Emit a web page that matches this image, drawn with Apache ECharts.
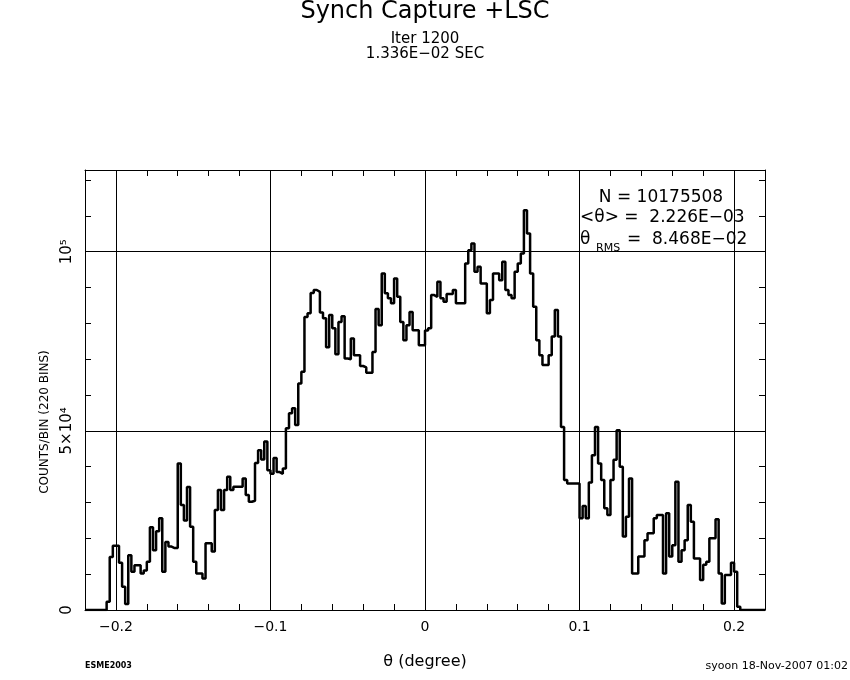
<!DOCTYPE html>
<html>
<head>
<meta charset="utf-8">
<title>Synch Capture +LSC</title>
<script src="https://cdn.jsdelivr.net/npm/echarts@6/dist/echarts.min.js"></script>
<style>
  html, body { margin: 0; padding: 0; background: #fff; }
  #chart { width: 850px; height: 680px; }
</style>
</head>
<body>
<div id="chart"></div>
<script>
// histogram: 220 bins of 0.002 deg from -0.22 to 0.22
const binStart = -0.22
const binWidth = 0.002
const counts = [
  0, 0, 0, 0, 0, 0, 0, 2300, 14800, 17900,
  17900, 13200, 6500, 1700, 15300, 10700, 12500, 12500, 10200, 11000,
  13500, 23100, 16700, 22000, 25600, 10700, 19000, 17700, 17300, 17300,
  40900, 29300, 25000, 34300, 23200, 13500, 10200, 10200, 8800, 18600,
  18600, 16300, 27900, 33500, 27900, 33500, 37200, 33500, 34400, 34400,
  34400, 36700, 32100, 30200, 30500, 41000, 44600, 42000, 47000, 39000,
  38000, 42400, 38500, 38000, 39500, 50700, 54900, 56300, 51600, 63200,
  66500, 81800, 82800, 88500, 89300, 88800, 83000, 81400, 73300, 82300,
  78600, 71400, 80400, 82000, 70200, 70000, 75800, 71100, 71100, 68100,
  67700, 66200, 66200, 72000, 84000, 79500, 93900, 88400, 87000, 85600,
  92500, 87400, 80400, 75300, 79500, 83200, 78100, 78100, 73900, 73900,
  78000, 78600, 87900, 87400, 91600, 87000, 86000, 88200, 88200, 89300,
  85600, 85600, 85600, 96700, 100400, 102300, 94400, 95800, 91100, 91100,
  82800, 86500, 93900, 93900, 92000, 97200, 89300, 87900, 87000, 94400,
  96700, 99500, 111600, 105100, 93900, 84600, 75300, 71100, 68400, 68400,
  71100, 76300, 83700, 76300, 51100, 36300, 35300, 35300, 35300, 35300,
  25600, 29000, 25600, 35600, 43200, 51100, 40900, 36300, 28400, 26500,
  36300, 41900, 50200, 40000, 20500, 26000, 36700, 10200, 10200, 14900,
  14900, 19500, 21400, 21400, 25600, 26500, 26500, 10200, 27000, 14900,
  18100, 35800, 13500, 16700, 19500, 29300, 24600, 14400, 14400, 8400,
  12600, 13500, 20000, 20000, 25300, 10200, 1800, 9800, 9800, 13200,
  10700, 900, 0, 0, 0, 0, 0, 0, 0, 0
]
const xMajor = [-0.2, -0.1, 0, 0.1, 0.2]
const yMajor = [50000, 100000]
const yLabels = { 0: '0', 50000: '5×10⁴', 100000: '10⁵' }

// left bin edges, plus closing point at the right edge
const points = counts.map((c, i) => [binStart + i * binWidth, c])
points.push([binStart + counts.length * binWidth, counts[counts.length - 1]])

const font = 'DejaVu Sans'
const black = '#000'

function xLabel(v) {
  const r = Math.round(v * 10)
  if (Math.abs(v * 10 - r) > 1e-6) return ''
  if (r === 0) return '0'
  return (r < 0 ? '−' : '') + '0.' + Math.abs(r)
}

const chart = echarts.init(document.getElementById('chart'))

const xBase = {
  type: 'value',
  min: -0.22,
  max: 0.22,
  interval: 0.02,
  axisLine: { onZero: false, lineStyle: { color: black, width: 1 } },
  axisTick: { inside: true, length: 6, lineStyle: { color: black } },
  splitLine: { show: false },
}
const yBase = {
  type: 'value',
  min: 0,
  max: 122800,
  interval: 10000,
  axisLine: { show: true, onZero: false, lineStyle: { color: black, width: 1 } },
  axisTick: { show: true, inside: true, length: 6, lineStyle: { color: black } },
  splitLine: { show: false },
}

chart.setOption({
  animation: false,
  backgroundColor: '#fff',
  title: {
    text: 'Synch Capture +LSC',
    subtext: 'Iter 1200\n1.336E−02 SEC',
    left: 'center',
    top: 0,
    padding: 0,
    itemGap: 8,
    textStyle: { fontFamily: font, fontSize: 24, fontWeight: 'normal', color: black },
    subtextStyle: { fontFamily: font, fontSize: 15, lineHeight: 15, color: black, align: 'center' },
  },
  grid: { left: 85, right: 85, top: 170, bottom: 70 },
  xAxis: [
    {
      ...xBase,
      position: 'bottom',
      name: 'θ (degree)',
      nameLocation: 'middle',
      nameGap: 44,
      nameTextStyle: { fontFamily: font, fontSize: 16, color: black },
      axisLabel: { formatter: xLabel, margin: 10, fontFamily: font, fontSize: 14, color: black },
    },
    { ...xBase, position: 'top', axisLabel: { show: false } },
  ],
  yAxis: [
    {
      ...yBase,
      position: 'left',
      axisLabel: {
        rotate: 90,
        margin: 10,
        formatter: v => yLabels[v] ?? '',
        fontFamily: font, fontSize: 15, color: black,
      },
    },
    { ...yBase, position: 'right', axisLabel: { show: false } },
  ],
  graphic: [
    {
      type: 'text', x: 45, y: 422, rotation: Math.PI / 2,
      style: { text: 'COUNTS/BIN (220 BINS)', font: '12px "DejaVu Sans"', fill: black, align: 'center', verticalAlign: 'middle' },
    },
    {
      type: 'text', x: 661, y: 198,
      style: { text: 'N = 10175508', font: '17px "DejaVu Sans"', fill: black, align: 'center', verticalAlign: 'middle' },
    },
    {
      type: 'text', x: 580, y: 218,
      style: { text: '<θ> =  2.226E−03', font: '17px "DejaVu Sans"', fill: black, align: 'left', verticalAlign: 'middle' },
    },
    {
      type: 'text', x: 580, y: 240,
      style: { text: 'θ', font: '17px "DejaVu Sans"', fill: black, align: 'left', verticalAlign: 'middle' },
    },
    {
      type: 'text', x: 596, y: 248,
      style: { text: 'RMS', font: '11px "DejaVu Sans"', fill: black, align: 'left', verticalAlign: 'middle' },
    },
    {
      type: 'text', x: 627, y: 240,
      style: { text: '=  8.468E−02', font: '17px "DejaVu Sans"', fill: black, align: 'left', verticalAlign: 'middle' },
    },
    {
      type: 'text', x: 85, y: 666,
      style: { text: 'ESME2003', font: 'bold 8px "DejaVu Sans"', fill: black, align: 'left', verticalAlign: 'middle' },
    },
    {
      type: 'text', x: 848, y: 666,
      style: { text: 'syoon 18-Nov-2007 01:02', font: '11px "DejaVu Sans"', fill: black, align: 'right', verticalAlign: 'middle' },
    },
  ],
  series: [{
    type: 'line',
    step: 'end',
    data: points,
    symbol: 'none',
    clip: true,
    lineStyle: { color: black, width: 2.5 },
    markLine: {
      silent: true,
      symbol: ['none', 'none'],
      label: { show: false },
      lineStyle: { color: black, width: 1, type: 'solid' },
      data: xMajor.map(v => ({ xAxis: v })).concat(yMajor.map(v => ({ yAxis: v }))),
    },
  }],
})
</script>
</body>
</html>
